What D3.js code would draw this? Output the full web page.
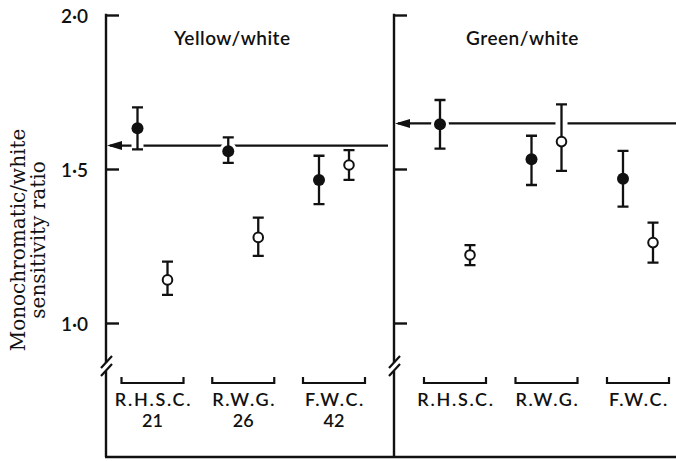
<!DOCTYPE html>
<html>
<head>
<meta charset="utf-8">
<script src="https://cdn.jsdelivr.net/npm/d3@7"></script>
<style>
  body { margin: 0; background: #fff; }
  svg { display: block; }
  .sans { font-family: Lato, 'Open Sans', sans-serif; font-weight: 600; fill: #111; }
  .serif { font-family: 'DejaVu Serif', 'Liberation Serif', serif; fill: #111; }
</style>
</head>
<body>
<svg id="chart" width="676" height="461"></svg>
<script>
'use strict'

const groups = ['R.H.S.C.', 'R.W.G.', 'F.W.C.']
const groupSizes = ['21', '26', '42']
const panelTitles = ['Yellow/white', 'Green/white']
const yTicks = [1.0, 1.5, 2.0]

// each entry: [mean, lower, upper]
const yellowFilled = [[1.632, 1.564, 1.700], [1.558, 1.520, 1.603], [1.464, 1.386, 1.543]]
const yellowOpen = [[1.140, 1.091, 1.199], [1.278, 1.218, 1.342], [1.513, 1.465, 1.561]]
const greenFilled = [[1.645, 1.566, 1.724], [1.532, 1.448, 1.608], [1.468, 1.378, 1.559]]
const greenOpen = [[1.221, 1.188, 1.253], [1.589, 1.494, 1.710], [1.261, 1.196, 1.326]]

// ratio for the white-light reference (arrow)
const whiteLevel = [1.576, 1.648]

const svg = d3.select('#chart')

const axisX = [106, 394]
const lineEnd = [388, 676]
const groupRange = [[152.5, 334], [455, 638]]
const baseY = 457
const breakTop = 363
const breakBottom = 371
const markOffset = 15
const ink = '#111'

const y = d3.scaleLinear().domain([1, 2]).range([323, 15])
const fmt = d => d3.format('.1f')(d).replace('.', '\u00b7')

const panels = [
  { title: panelTitles[0], filled: yellowFilled, open: yellowOpen, white: whiteLevel[0], sizes: groupSizes },
  { title: panelTitles[1], filled: greenFilled, open: greenOpen, white: whiteLevel[1], sizes: null }
]

// bottom rule
svg.append('path')
  .attr('d', `M${axisX[0] - 1},${baseY}H676`)
  .attr('stroke', ink).attr('stroke-width', 2.4).attr('fill', 'none')

panels.forEach((p, i) => {
  const ax = axisX[i]
  const x = d3.scalePoint().domain(groups).range(groupRange[i])

  // y axis with inward ticks
  const axis = d3.axisLeft(y)
    .tickValues(yTicks)
    .tickSize(-13)
    .tickPadding(18)
    .tickFormat(i === 0 ? fmt : '')

  const g = svg.append('g')
    .attr('transform', `translate(${ax},0)`)
    .call(axis)
  g.select('.domain').remove()
  g.selectAll('.tick line').attr('stroke', ink).attr('stroke-width', 2.4)
  g.selectAll('.tick text')
    .attr('class', 'sans')
    .attr('dy', '0.4em')
    .style('font-size', '19px')

  // axis line with a break
  svg.append('path')
    .attr('d', `M${ax},${y(2) - 1.2}V${breakTop}M${ax},${breakBottom}V${baseY}`)
    .attr('stroke', ink).attr('stroke-width', 2.4).attr('fill', 'none')
  svg.append('path')
    .attr('d', `M${ax - 5},${breakTop + 5}L${ax + 6},${breakTop - 7}M${ax - 5},${breakBottom + 5}L${ax + 6},${breakBottom - 7}`)
    .attr('stroke', ink).attr('stroke-width', 2.2).attr('fill', 'none')

  // panel title
  svg.append('text')
    .attr('class', 'sans')
    .attr('x', d3.mean(groupRange[i]) - (i === 0 ? 11 : 24))
    .attr('y', 45)
    .attr('text-anchor', 'middle')
    .style('font-size', '19px')
    .style('letter-spacing', '0.5px')
    .text(p.title)

  // white reference line with arrowhead
  const wy = y(p.white)
  svg.append('path')
    .attr('d', `M${ax + 4},${wy}H${lineEnd[i]}`)
    .attr('stroke', ink).attr('stroke-width', 2.2).attr('fill', 'none')
  svg.append('path')
    .attr('d', `M${ax + 1},${wy}L${ax + 16},${wy - 4.5}L${ax + 16},${wy + 4.5}Z`)
    .attr('fill', ink)

  // group brackets and labels
  groups.forEach((grp, j) => {
    const cx = x(grp)
    svg.append('path')
      .attr('d', `M${cx - 31},377V383H${cx + 31}V377`)
      .attr('stroke', ink).attr('stroke-width', 2.2).attr('fill', 'none')
    svg.append('text')
      .attr('class', 'sans')
      .attr('x', cx + 1).attr('y', 406)
      .attr('text-anchor', 'middle')
      .style('font-size', '18px')
      .style('letter-spacing', '1.7px')
      .text(grp)
    if (p.sizes) {
      svg.append('text')
        .attr('class', 'sans')
        .attr('x', cx).attr('y', 427)
        .attr('text-anchor', 'middle')
        .style('font-size', '18px')
        .text(p.sizes[j])
    }
  })

  // points with error bars
  const pts = []
  groups.forEach((grp, j) => {
    pts.push({ x: x(grp) - markOffset, v: p.filled[j], filled: true })
    pts.push({ x: x(grp) + markOffset, v: p.open[j], filled: false })
  })

  const bars = svg.append('g').selectAll('g')
    .data(pts)
    .enter()
    .append('g')

  // white halo so the reference line breaks around the bars
  bars.append('path')
    .attr('d', d => `M${d.x},${y(d.v[2])}V${y(d.v[1])}`)
    .attr('stroke', '#fff').attr('stroke-width', 12)
  bars.append('circle')
    .attr('cx', d => d.x).attr('cy', d => y(d.v[0]))
    .attr('r', 9).attr('fill', '#fff')

  bars.append('path')
    .attr('d', d => `M${d.x},${y(d.v[2])}V${y(d.v[1])}M${d.x - 5.5},${y(d.v[2])}h11M${d.x - 5.5},${y(d.v[1])}h11`)
    .attr('stroke', ink).attr('stroke-width', 2.3).attr('fill', 'none')
  bars.append('circle')
    .attr('cx', d => d.x).attr('cy', d => y(d.v[0]))
    .attr('r', d => d.filled ? 6 : 4.8)
    .attr('fill', d => d.filled ? ink : '#fff')
    .attr('stroke', ink)
    .attr('stroke-width', d => d.filled ? 0 : 2)
})

// y label
const yLabel = svg.append('g').attr('transform', 'translate(0,240) rotate(-90)')
yLabel.append('text')
  .attr('class', 'serif')
  .attr('x', 0).attr('y', 25)
  .attr('text-anchor', 'middle')
  .style('font-size', '20px')
  .text('Monochromatic/white')
yLabel.append('text')
  .attr('class', 'serif')
  .attr('x', 0).attr('y', 45)
  .attr('text-anchor', 'middle')
  .style('font-size', '20px')
  .text('sensitivity ratio')
</script>
</body>
</html>
